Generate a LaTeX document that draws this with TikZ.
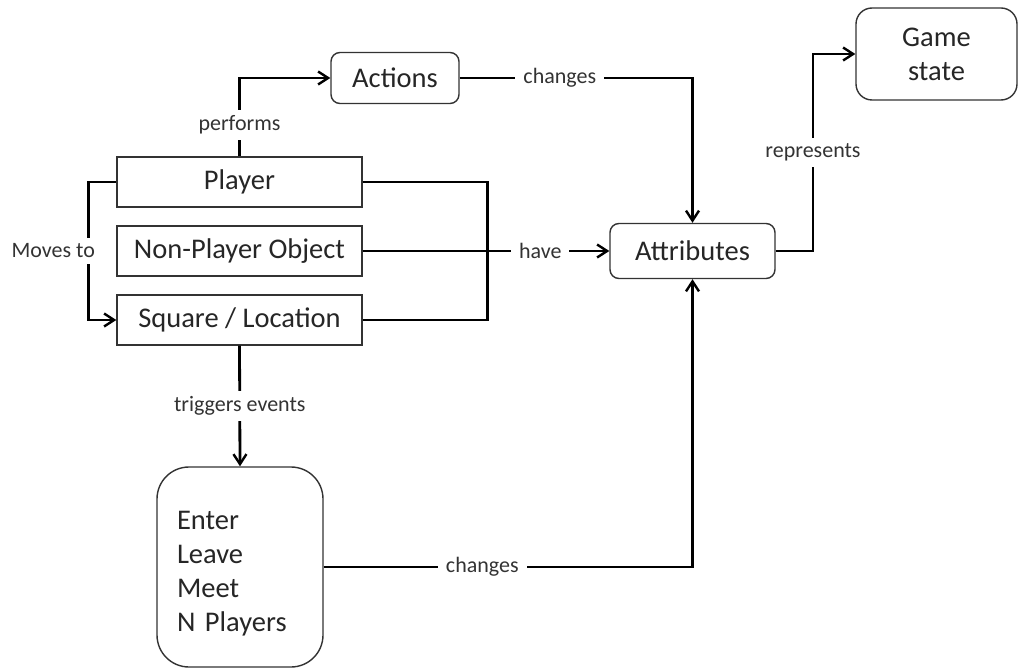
\documentclass[tikz,border=0pt]{standalone}
\usepackage{fontspec}
\setmainfont{Carlito}
\usetikzlibrary{arrows.meta}
\begin{document}
\begin{tikzpicture}[x=1pt,y=-1pt,
  box/.style={draw=black!80,line width=1.4pt,text=black!85,font=\fontsize{28.5}{34}\selectfont,inner sep=0pt,align=center},
  rbox/.style={box,rounded corners=9pt},
  conn/.style={draw=black,line width=2.8pt},
  arr/.style={conn,-{Straight Barb[length=10pt,width=13pt,line width=2.4pt]}},
  lbl/.style={fill=white,text=black!80,font=\fontsize{22}{25}\selectfont,inner xsep=8pt,inner ysep=6pt}]
\useasboundingbox[fill=white] (0,0) rectangle (1019,668);
\node[rbox,minimum width=128pt,minimum height=51pt] (actions) at (395,78) {Actions};
\node[box,rounded corners=16pt,minimum width=161pt,minimum height=92pt] (game) at (936.5,54) {Game\\state};
\node[box,minimum width=245pt,minimum height=50pt] (player) at (239.5,182) {Player};
\node[box,minimum width=245pt,minimum height=50pt] (npo) at (239.5,251) {Non-Player Object};
\node[box,minimum width=245pt,minimum height=50pt] (square) at (239.5,320) {Square / Location};
\node[rbox,minimum width=165pt,minimum height=55pt] (attr) at (692.5,251) {Attributes};
\node[box,rounded corners=32pt,minimum width=166pt,minimum height=200pt,text width=126pt,align=left,inner xsep=20pt] (events) at (240,567) {\rule{0pt}{32pt}Enter\\Leave\\Meet\\N Players};
\coordinate (rp) at (813,251);
% performs
\draw[arr] (player.north) -- node[lbl,pos=0.4]{performs} (player.north |- actions.west) -- (actions.west);
% actions changes attributes
\draw[arr] (actions.east) -- node[lbl,pos=0.43]{changes} (actions.east -| attr.north) -- (attr.north);
% bracket player-square
\draw[conn] (player.east) -- ++(125,0) |- (square.east);
% have
\draw[arr] (npo.east) -- node[lbl,pos=0.72]{have} (attr.west);
% moves to
\draw[arr] (player.west) -- ++(-28,0) |- node[lbl,pos=0.25,anchor=east,xshift=16pt]{Moves to} (square.west);
% triggers events
\draw[arr] (square.south) -- node[lbl]{triggers events} (events.north);
% events changes attributes
\draw[arr] (events.east) -| node[lbl,pos=0.215]{changes} (attr.south);
% represents
\draw[arr] (attr.east) -- (rp) -- node[lbl]{represents} (rp |- game.west) -- (game.west);
\end{tikzpicture}
\end{document}
